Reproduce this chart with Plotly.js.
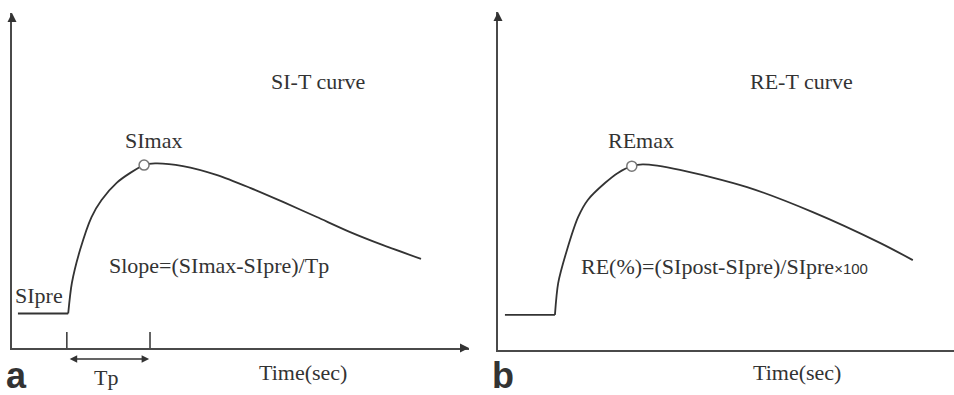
<!DOCTYPE html>
<html><head><meta charset="utf-8">
<script src="https://cdn.plot.ly/plotly-3.0.1.min.js"></script>
<style>html,body{margin:0;padding:0;background:#fff}</style>
</head><body><div id="chart" style="width:954px;height:395px"></div>
<script>
// Panel a: SI-T curve (time in arbitrary units 0-100, signal 0-100)
const siBaseT = [1.3, 12.3];
const siBaseV = [10.3, 10.3];
const siT = [12.3, 13.1, 14.9, 17.4, 19.6, 22.9, 25.8, 28.9, 31.3, 37.4, 44.9, 52.1, 59.3, 66.7, 74.0, 81.2, 89.5];
const siV = [10.3, 19.4, 29.3, 39.1, 44.2, 49.3, 52.2, 54.6, 55.1, 54.3, 51.6, 47.8, 43.6, 39.1, 34.6, 30.7, 26.6];
const siMaxT = [28.9];
const siMaxV = [54.6];
const tpTicks = [12.0, 30.2];
const tpTickTop = 4.8;
const tpArrow = [12.3, 30.0];

// Panel b: RE-T curve
const reBaseT = [1.5, 12.3];
const reBaseV = [10.4, 10.4];
const reT = [12.3, 13.0, 14.9, 17.3, 19.4, 23.1, 25.9, 28.9, 31.3, 39.3, 53.8, 68.0, 82.5, 89.6];
const reV = [10.4, 19.8, 29.6, 39.3, 44.4, 49.4, 52.4, 54.4, 54.9, 53.3, 48.2, 40.8, 31.7, 26.6];
const reMaxT = [28.9];
const reMaxV = [54.4];

const ink = '#333';
const serif = 'Liberation Serif, Times New Roman, serif';
const sans = 'Liberation Sans, Arial, sans-serif';

const lineStyle = {color: ink, width: 1.8};
const traces = [
  {x: siBaseT, y: siBaseV, xaxis: 'x', yaxis: 'y', mode: 'lines', line: lineStyle, hoverinfo: 'skip'},
  {x: siT, y: siV, xaxis: 'x', yaxis: 'y', mode: 'lines', line: Object.assign({shape: 'spline', smoothing: 0.8}, lineStyle), hoverinfo: 'skip'},
  {x: [tpTicks[0], tpTicks[0], null, tpTicks[1], tpTicks[1]], y: [0, tpTickTop, null, 0, tpTickTop],
   xaxis: 'x', yaxis: 'y', mode: 'lines', line: {color: ink, width: 1.5}, hoverinfo: 'skip'},
  {x: siMaxT, y: siMaxV, xaxis: 'x', yaxis: 'y', mode: 'markers',
   marker: {size: 10, color: '#fff', line: {color: '#777', width: 1.5}}, hoverinfo: 'skip'},
  {x: reBaseT, y: reBaseV, xaxis: 'x2', yaxis: 'y2', mode: 'lines', line: lineStyle, hoverinfo: 'skip'},
  {x: reT, y: reV, xaxis: 'x2', yaxis: 'y2', mode: 'lines', line: Object.assign({shape: 'spline', smoothing: 0.8}, lineStyle), hoverinfo: 'skip'},
  {x: reMaxT, y: reMaxV, xaxis: 'x2', yaxis: 'y2', mode: 'markers',
   marker: {size: 10, color: '#fff', line: {color: '#777', width: 1.5}}, hoverinfo: 'skip'}
];

const axBase = {showline: true, linecolor: '#4a4a4a', linewidth: 2, showgrid: false, zeroline: false,
  showticklabels: false, ticks: '', fixedrange: true};

function px(x) { return x / 954; }
function py(y) { return 1 - y / 395; }
function label(text, x, y, size, family, extra) {
  return Object.assign({text: text, xref: 'paper', yref: 'paper', x: px(x), y: py(y),
    xanchor: 'center', yanchor: 'middle', showarrow: false,
    font: {family: family || serif, size: size || 22, color: ink}}, extra || {});
}

const annotations = [
  // axis arrowheads
  {xref: 'x', yref: 'y', x: 0, y: 100, ax: 0, ay: 10, text: '', showarrow: true, arrowhead: 2, arrowsize: 0.9, arrowwidth: 2, arrowcolor: ink},
  {xref: 'x', yref: 'y', x: 100, y: 0, ax: -10, ay: 0, text: '', showarrow: true, arrowhead: 2, arrowsize: 0.9, arrowwidth: 2, arrowcolor: ink},
  {xref: 'x2', yref: 'y2', x: 0, y: 100, ax: 0, ay: 10, text: '', showarrow: true, arrowhead: 2, arrowsize: 0.9, arrowwidth: 2, arrowcolor: ink},
  // Tp double arrow (below the time axis)
  {xref: 'x', yref: 'paper', x: tpArrow[1], y: py(359), axref: 'x', ayref: 'pixel', ax: tpArrow[0], ay: 0,
   text: '', showarrow: true, arrowside: 'end+start', arrowhead: 2, arrowsize: 1, arrowwidth: 1.5, arrowcolor: ink},
  // panel a labels
  label('SI-T curve', 318, 81),
  label('SImax', 153, 140),
  label('Slope=(SImax-SIpre)/Tp', 219, 265),
  label('SIpre', 39, 295),
  label('Tp', 106, 377),
  label('Time(sec)', 303, 372),
  label('<b>a</b>', 16, 375, 36, sans),
  // panel b labels
  label('RE-T curve', 801, 81),
  label('REmax', 641, 140),
  label('RE(%)=(SIpost-SIpre)/SIpre<span style="font-family:Liberation Sans, Arial, sans-serif;font-size:15px">×100</span>', 724, 266),
  label('Time(sec)', 797, 372),
  label('<b>b</b>', 503, 375, 36, sans)
];

const layout = {
  width: 954, height: 395,
  margin: {l: 0, r: 0, t: 0, b: 0},
  paper_bgcolor: '#fff', plot_bgcolor: '#fff',
  showlegend: false,
  xaxis: Object.assign({domain: [px(12), px(469)], range: [0, 100], anchor: 'y'}, axBase),
  yaxis: Object.assign({domain: [py(348), py(13)], range: [0, 100], anchor: 'x'}, axBase),
  xaxis2: Object.assign({domain: [px(498), 1], range: [0, 98.5], anchor: 'y2'}, axBase),
  yaxis2: Object.assign({domain: [py(350), py(12)], range: [0, 100], anchor: 'x2'}, axBase),
  annotations: annotations
};

Plotly.newPlot('chart', traces, layout, {staticPlot: true, displayModeBar: false});
</script>
</body></html>
